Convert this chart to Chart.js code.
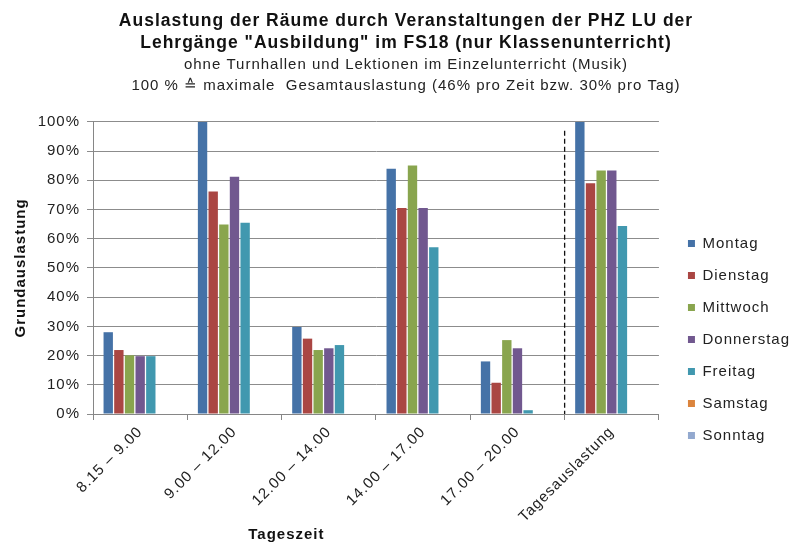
<!DOCTYPE html>
<html>
<head>
<meta charset="utf-8">
<script src="https://cdn.jsdelivr.net/npm/chart.js@4"></script>
<style>
  body { margin: 0; background: #fff; }
  #wrap { width: 791px; height: 545px; }
</style>
</head>
<body>
<div id="wrap"><canvas id="roomChart" width="791" height="545"></canvas></div>
<script>
const categories = ["8.15 \u2013 9.00", "9.00 \u2013 12.00", "12.00 \u2013 14.00", "14.00 \u2013 17.00", "17.00 \u2013 20.00", "Tagesauslastung"];

const montag = [28, 100, 29.8, 84, 18, 100];
const dienstag = [21.9, 76.2, 25.8, 70.5, 10.7, 79];
const mittwoch = [20.1, 64.9, 21.9, 85.1, 25.3, 83.4];
const donnerstag = [19.8, 81.2, 22.5, 70.5, 22.5, 83.4];
const freitag = [19.8, 65.5, 23.6, 57.1, 1.3, 64.4];
const samstag = [0, 0, 0, 0, 0, 0];
const sonntag = [0, 0, 0, 0, 0, 0];

const yTicks = [0, 10, 20, 30, 40, 50, 60, 70, 80, 90, 100];

const titleLines = [
  "Auslastung der R\u00e4ume durch Veranstaltungen der PHZ LU der",
  "Lehrg\u00e4nge \"Ausbildung\" im FS18 (nur Klassenunterricht)"
];
const subtitleLines = [
  "ohne Turnhallen und Lektionen im Einzelunterricht (Musik)",
  "100 % \u2259 maximale  Gesamtauslastung (46% pro Zeit bzw. 30% pro Tag)"
];
const xTitle = "Tageszeit";

const FONT = "'Liberation Sans', Arial, sans-serif";

// the exported picture has loose letter spacing everywhere
const spacing = {
  id: "spacing",
  beforeUpdate(chart) { chart.ctx.letterSpacing = "1px"; },
  beforeDraw(chart) { chart.ctx.letterSpacing = "1px"; }
};

// dashed separator before the daily total group, plus the x axis title
const extras = {
  id: "extras",
  afterDatasetsDraw(chart) {
    const x = chart.scales.x;
    const y = chart.scales.y;
    const px = (x.getPixelForValue(4) + x.getPixelForValue(5)) / 2;
    const ctx = chart.ctx;
    ctx.save();
    ctx.strokeStyle = "#111";
    ctx.lineWidth = 1.3;
    ctx.setLineDash([5, 3]);
    ctx.beginPath();
    ctx.moveTo(px, y.getPixelForValue(97));
    ctx.lineTo(px, y.getPixelForValue(0));
    ctx.stroke();
    ctx.restore();
  },
  afterDraw(chart) {
    const x = chart.scales.x;
    const ctx = chart.ctx;
    ctx.save();
    ctx.font = "bold 15px " + FONT;
    ctx.fillStyle = "#111";
    ctx.textAlign = "center";
    ctx.textBaseline = "alphabetic";
    ctx.fillText(xTitle, x.getPixelForValue(1.55), x.bottom);
    ctx.restore();
  }
};

const dataset = (label, data, color) => ({
  label,
  data,
  backgroundColor: color,
  borderWidth: 0,
  barPercentage: 0.88,
  categoryPercentage: 0.79
});

new Chart(document.getElementById("roomChart"), {
  type: "bar",
  data: {
    labels: categories,
    datasets: [
      dataset("Montag", montag, "#4572A7"),
      dataset("Dienstag", dienstag, "#AA4643"),
      dataset("Mittwoch", mittwoch, "#89A54E"),
      dataset("Donnerstag", donnerstag, "#71588F"),
      dataset("Freitag", freitag, "#4198AF"),
      dataset("Samstag", samstag, "#DB843D"),
      dataset("Sonntag", sonntag, "#93A9CF")
    ]
  },
  plugins: [spacing, extras],
  options: {
    responsive: false,
    animation: false,
    layout: { padding: { left: 12, right: -9, top: 0, bottom: 6 } },
    plugins: {
      title: {
        display: true,
        text: titleLines,
        color: "#111",
        font: { family: FONT, size: 17.5, weight: "bold", lineHeight: 1.26 },
        padding: { top: 10, bottom: 0 }
      },
      subtitle: {
        display: true,
        text: subtitleLines,
        color: "#222",
        font: { family: FONT, size: 15, lineHeight: 1.36 },
        padding: { top: 1, bottom: 26 }
      },
      legend: {
        position: "right",
        align: "start",
        title: { display: true, text: " ", font: { size: 10 }, padding: { top: 207, bottom: 0 } },
        labels: {
          color: "#222",
          boxWidth: 7,
          boxHeight: 7,
          padding: 17,
          font: { family: FONT, size: 15 }
        }
      },
      tooltip: { enabled: false }
    },
    scales: {
      x: {
        offset: true,
        grid: {
          offset: true,
          drawOnChartArea: false,
          drawTicks: true,
          tickLength: 6,
          color: "#868686"
        },
        border: { color: "#868686" },
        ticks: {
          color: "#222",
          minRotation: 45,
          maxRotation: 45,
          font: { family: FONT, size: 15 }
        },
        afterFit(scale) { scale.height = 125; }
      },
      y: {
        min: 0,
        max: 100,
        afterBuildTicks(scale) { scale.ticks = yTicks.map(v => ({ value: v })); },
        grid: { color: "#8c8c8c", tickLength: 6, lineWidth: 1 },
        border: { color: "#868686" },
        ticks: {
          color: "#222",
          padding: 7,
          font: { family: FONT, size: 15 },
          callback: v => v + "%"
        },
        title: {
          display: true,
          text: "Grundauslastung",
          color: "#111",
          font: { family: FONT, size: 15, weight: "bold" },
          padding: { top: 0, bottom: 6 }
        },
        afterFit(scale) { scale.width = 81; }
      },
      gap: {
        position: "right",
        display: true,
        grid: { display: false },
        border: { display: false },
        ticks: { display: false },
        afterFit(scale) { scale.width = 12; }
      }
    }
  }
});
</script>
</body>
</html>
